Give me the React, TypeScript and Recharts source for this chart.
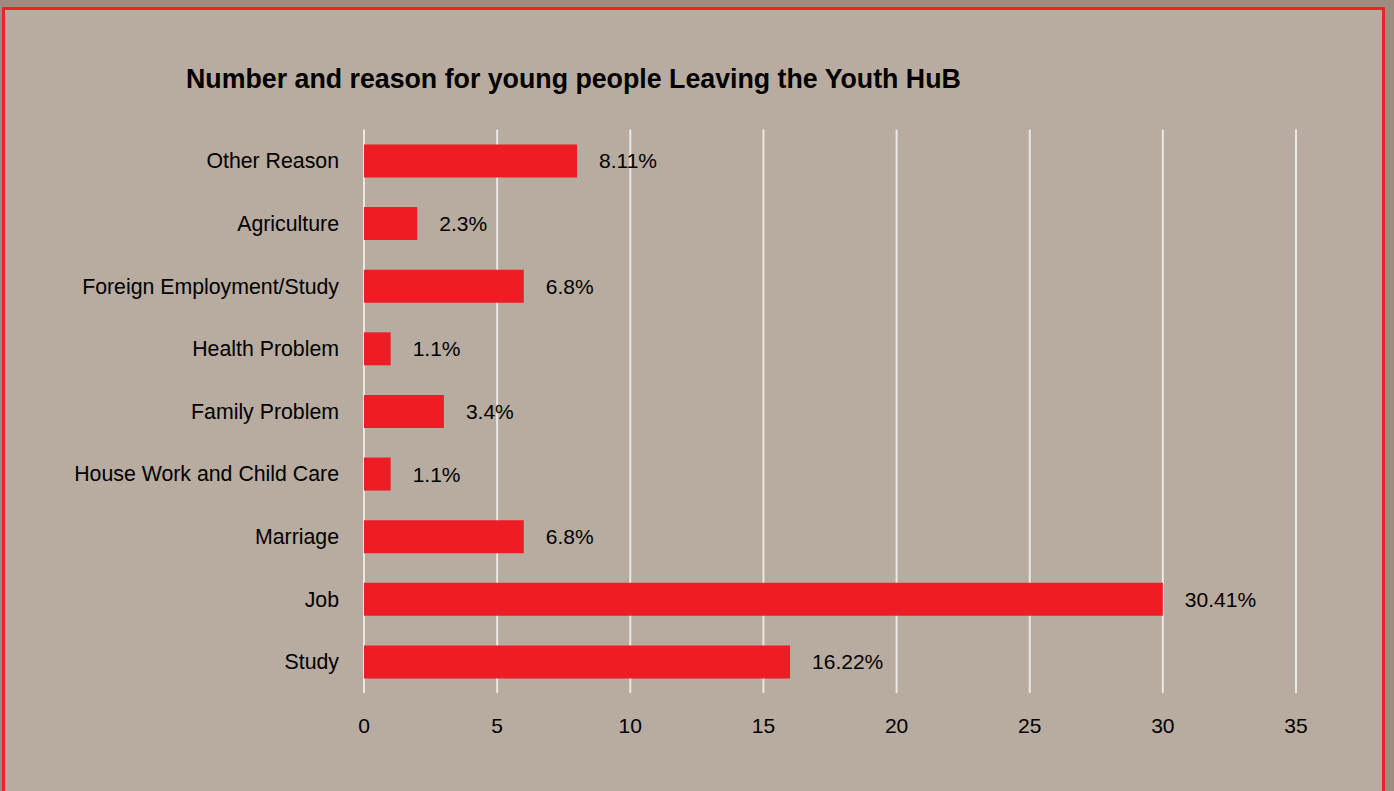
import React from "react";
import { BarChart, Bar, XAxis, YAxis, CartesianGrid, LabelList } from "recharts";

const categories = [
  "Other Reason",
  "Agriculture",
  "Foreign Employment/Study",
  "Health Problem",
  "Family Problem",
  "House Work and Child Care",
  "Marriage",
  "Job",
  "Study",
];
const counts = [8, 2, 6, 1, 3, 1, 6, 30, 16];
const percentLabels = ["8.11%", "2.3%", "6.8%", "1.1%", "3.4%", "1.1%", "6.8%", "30.41%", "16.22%"];
const xTicks = [0, 5, 10, 15, 20, 25, 30, 35];
const title = "Number and reason for young people Leaving the Youth HuB";

const data = categories.map((name, i) => ({ name, value: counts[i], label: percentLabels[i] }));

const FONT = '"Liberation Sans", Arial, Helvetica, sans-serif';

export default function App() {
  return (
    <div
      style={{
        position: "fixed",
        left: 0,
        top: 0,
        width: 1394,
        height: 791,
        background: "#9c8d80",
        overflow: "hidden",
        fontFamily: FONT,
      }}
    >
      <div
        style={{
          position: "absolute",
          left: 2,
          top: 7,
          width: 1377,
          height: 800,
          border: "3px solid #ee2229",
          background: "#b8ab9f",
        }}
      />
      <div
        style={{
          position: "absolute",
          left: 186,
          top: 64,
          lineHeight: "30px",
          fontSize: 26.75,
          fontWeight: "bold",
          color: "#000",
          whiteSpace: "nowrap",
        }}
      >
        {title}
      </div>
      <div style={{ position: "absolute", left: 4, top: 9 }}>
        <BarChart
          width={1380}
          height={782}
          data={data}
          layout="vertical"
          margin={{ top: 120.5, right: 88, bottom: 49, left: 60 }}
          barCategoryGap={0}
        >
          <CartesianGrid horizontal={false} vertical={true} stroke="#ebe7e3" strokeWidth={2} />
          <XAxis
            type="number"
            domain={[0, 35]}
            ticks={xTicks}
            axisLine={false}
            tickLine={false}
            tickSize={0}
            tickMargin={25}
            height={49}
            interval={0}
            tick={{ fill: "#000", fontSize: 21, fontFamily: FONT }}
          />
          <YAxis
            type="category"
            dataKey="name"
            width={300}
            axisLine={false}
            tickLine={false}
            tickSize={0}
            tickMargin={25}
            interval={0}
            tick={{ fill: "#000", fontSize: 21.3, fontFamily: FONT }}
          />
          <Bar dataKey="value" fill="#ee1c25" barSize={33} isAnimationActive={false}>
            <LabelList
              dataKey="label"
              position="right"
              offset={22}
              style={{ fill: "#000", fontSize: 21, fontFamily: FONT }}
            />
          </Bar>
        </BarChart>
      </div>
    </div>
  );
}
